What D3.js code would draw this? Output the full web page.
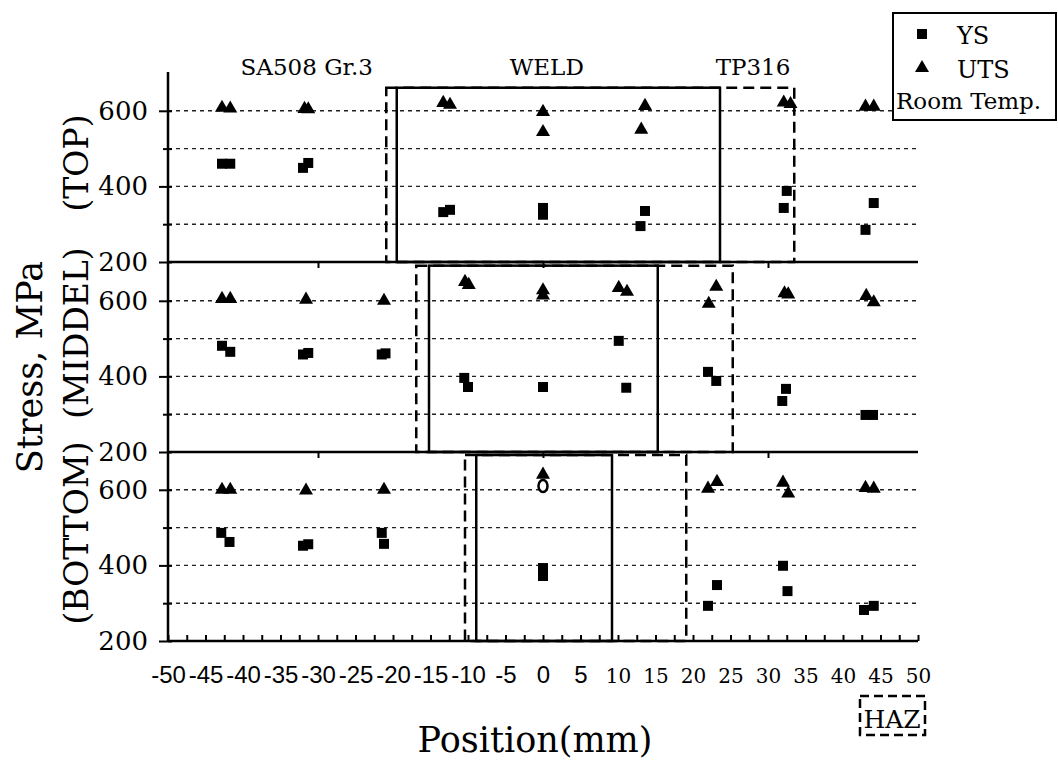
<!DOCTYPE html>
<html>
<head>
<meta charset="utf-8">
<script src="https://cdn.jsdelivr.net/npm/d3@7/dist/d3.min.js"></script>
<style>
  body { margin: 0; background: #fff; }
  svg { display: block; }
</style>
</head>
<body>
<div id="chart"></div>
<script>
// ---- data (position in mm, stress in MPa) ----
var panelNames = ["(TOP)", "(MIDDEL)", "(BOTTOM)"];
var xTicks = d3.range(-50, 51, 5);
var yTicks = [200, 300, 400, 500, 600];
var gridValues = [300, 400, 500, 600];
var regionLabels = ["SA508 Gr.3", "WELD", "TP316"];
var regionPos = [-31.5, 0.5, 28];

var topYS  = [[-42.8,460],[-41.7,460],[-32,449],[-31.3,462],[-13.3,332],[-12.4,338],[0,343],[0,325],
              [13.6,335],[13,295],[32.5,388],[32.1,343],[44.1,356],[43,285]];
var topUTS = [[-42.8,608],[-41.7,606],[-31.8,605],[-31.3,604],[-13.3,621],[-12.4,616],[0,597],[0,544],
              [13.6,613],[13.1,550],[32.1,622],[33,618],[43,611],[44.1,611]];
var midYS  = [[-42.8,481],[-41.7,465],[-32,458],[-31.3,462],[-21.5,458],[-21,461],[-10.5,396],[-10,372],
              [0,372],[10.1,494],[11.1,370],[22,412],[23.1,388],[32.4,367],[31.9,335],[43,298],[44,298]];
var midUTS = [[-42.8,605],[-41.7,605],[-31.6,603],[-21.2,600],[-10.4,650],[-9.9,642],[0,628],[0,614],
              [10.1,634],[11.2,624],[23.1,637],[22.1,592],[32.2,620],[32.7,617],[43.1,613],[44.1,596]];
var botYS  = [[-42.9,486],[-41.8,462],[-32,452],[-31.3,456],[-21.5,486],[-21.2,457],[0,393],[0,372],
              [23.2,348],[22,293],[32,399],[32.6,332],[42.8,282],[44.1,293]];
var botUTS = [[-42.8,600],[-41.7,600],[-31.6,598],[-21.2,600],[0,640],[23.2,621],[22,603],
              [32,619],[32.7,590],[43,605],[44.1,603]];
var botOpen = [[0,610]];

// weld (solid) and HAZ (dashed) boxes: [left mm, right mm, top MPa]
var weldBoxes = [[-19.5, 23.6, 661], [-15.2, 15.3, 693], [-8.9, 9.2, 692]];
var hazBoxes  = [[-20.9, 33.5, 661], [-16.9, 25.3, 693], [-10.4, 19.1, 692]];

var panels = [
  {name: panelNames[0], ys: topYS, uts: topUTS, open: [], weld: weldBoxes[0], haz: hazBoxes[0]},
  {name: panelNames[1], ys: midYS, uts: midUTS, open: [], weld: weldBoxes[1], haz: hazBoxes[1]},
  {name: panelNames[2], ys: botYS, uts: botUTS, open: botOpen, weld: weldBoxes[2], haz: hazBoxes[2]}
];

// ---- layout ----
var W = 1058, H = 764;
var left = 168, right = 918;
var panelBottoms = [262, 452, 641], panelH = 189;
var serif = "'DejaVu Serif', serif", sans = "'Liberation Sans', Arial, sans-serif";

var svg = d3.select("#chart").append("svg")
  .attr("width", W).attr("height", H)
  .style("background", "#fff");

var x = d3.scaleLinear().domain([-50, 50]).range([left, right]);

var squareSym = d3.symbol().type(d3.symbolSquare).size(100);
var triSym = d3.symbol().type(d3.symbolTriangle).size(85);

panels.forEach(function(p, i) {
  var b = panelBottoms[i];
  var y = d3.scaleLinear().domain([200, 700]).range([b, b - panelH]);
  var g = svg.append("g").attr("class", "panel");

  // dotted grid
  g.selectAll(".grid").data(gridValues).enter().append("line")
    .attr("x1", left).attr("x2", right)
    .attr("y1", function(d) { return y(d); }).attr("y2", function(d) { return y(d); })
    .attr("stroke", "#222").attr("stroke-width", 1.4).attr("stroke-dasharray", "4,4");

  // HAZ dashed box, then weld solid box
  g.append("rect")
    .attr("x", x(p.haz[0])).attr("y", y(p.haz[2]))
    .attr("width", x(p.haz[1]) - x(p.haz[0])).attr("height", b - y(p.haz[2]))
    .attr("fill", "none").attr("stroke", "#000").attr("stroke-width", 2.5)
    .attr("stroke-dasharray", "11,6");
  g.append("rect")
    .attr("x", x(p.weld[0])).attr("y", y(p.weld[2]))
    .attr("width", x(p.weld[1]) - x(p.weld[0])).attr("height", b - y(p.weld[2]))
    .attr("fill", "none").attr("stroke", "#000").attr("stroke-width", 2.5);

  // y axis
  var yAxis = d3.axisLeft(y).tickValues(yTicks).tickSize(8)
    .tickFormat(function(d) { return d % 200 === 0 ? d : ""; });
  var ya = g.append("g").attr("transform", "translate(" + left + ",0)").call(yAxis);
  ya.select(".domain").remove();
  ya.selectAll(".tick line").attr("stroke", "#000").attr("stroke-width", 2)
    .attr("x2", function(d) { return d % 200 === 0 ? -9 : -5; }).attr("x1", 4);
  ya.selectAll(".tick text").attr("x", -20).attr("dy", "0.33em")
    .style("font-family", serif).style("font-size", "26px").attr("fill", "#000");

  // panel separator / bottom line
  g.append("line").attr("x1", left).attr("x2", right).attr("y1", b).attr("y2", b)
    .attr("stroke", "#000").attr("stroke-width", 2.5);
  if (i < 2) {
    var sepAxis = d3.axisBottom(x).tickValues([-30, 0, 30]).tickSize(6).tickFormat("");
    var sa = g.append("g").attr("transform", "translate(0," + b + ")").call(sepAxis);
    sa.select(".domain").remove();
    sa.selectAll(".tick line").attr("stroke-width", 2);
  }

  // markers
  g.selectAll(".ys").data(p.ys).enter().append("path")
    .attr("d", squareSym)
    .attr("transform", function(d) { return "translate(" + x(d[0]) + "," + y(d[1]) + ")"; })
    .attr("fill", "#000");
  g.selectAll(".uts").data(p.uts).enter().append("path")
    .attr("d", triSym)
    .attr("transform", function(d) { return "translate(" + x(d[0]) + "," + y(d[1]) + ")"; })
    .attr("fill", "#000");
  g.selectAll(".open").data(p.open).enter().append("ellipse")
    .attr("cx", function(d) { return x(d[0]); }).attr("cy", function(d) { return y(d[1]); })
    .attr("rx", 4.5).attr("ry", 6)
    .attr("fill", "#fff").attr("stroke", "#000").attr("stroke-width", 2.5);
});

// full left axis line
svg.append("line").attr("x1", left).attr("x2", left).attr("y1", 72).attr("y2", panelBottoms[2])
  .attr("stroke", "#000").attr("stroke-width", 2.5);

// bottom x axis with inward ticks
var xb = panelBottoms[2];
var minorAxis = d3.axisBottom(x).tickValues(d3.range(-50, 50.1, 2.5)).tickSize(-6).tickFormat("");
var ma = svg.append("g").attr("transform", "translate(0," + xb + ")").call(minorAxis);
ma.select(".domain").remove();
ma.selectAll(".tick line").attr("stroke-width", 2);

var xAxis = d3.axisBottom(x).tickValues(xTicks).tickSize(0)
  .tickFormat(function(d) { return String(d); });
var xa = svg.append("g").attr("transform", "translate(0," + xb + ")").call(xAxis);
xa.select(".domain").remove();
xa.selectAll(".tick text")
  .attr("y", 0).attr("dy", 0)
  .attr("transform", "translate(0,42)")
  .attr("fill", "#000")
  .style("font-family", function(d) { return d <= 5 ? sans : serif; })
  .style("font-size", function(d) { return d <= 5 ? "24px" : "20px"; });

// region labels
svg.selectAll(".region").data(regionLabels).enter().append("text")
  .attr("x", function(d, i) { return x(regionPos[i]); }).attr("y", 75)
  .attr("text-anchor", "middle")
  .style("font-family", serif).style("font-size", "23px")
  .text(function(d) { return d; });

// y axis titles
svg.append("text")
  .attr("transform", "translate(42,367) rotate(-90)")
  .attr("text-anchor", "middle")
  .style("font-family", serif).style("font-size", "35px")
  .text("Stress, MPa");
var panelLabelY = [163, 333, 533];
svg.selectAll(".plabel").data(panelNames).enter().append("text")
  .attr("transform", function(d, i) { return "translate(88," + panelLabelY[i] + ") rotate(-90)"; })
  .attr("text-anchor", "middle")
  .style("font-family", serif).style("font-size", "33px")
  .text(function(d) { return d; });

// x title
svg.append("text")
  .attr("x", 535).attr("y", 752).attr("text-anchor", "middle")
  .style("font-family", serif).style("font-size", "35px")
  .text("Position(mm)");

// HAZ key
svg.append("rect").attr("x", 860).attr("y", 696).attr("width", 65).attr("height", 39)
  .attr("fill", "none").attr("stroke", "#000").attr("stroke-width", 2.5)
  .attr("stroke-dasharray", "9,5");
svg.append("text").attr("x", 892).attr("y", 728).attr("text-anchor", "middle")
  .style("font-family", serif).style("font-size", "25px").text("HAZ");

// legend
var lg = svg.append("g");
lg.append("rect").attr("x", 893).attr("y", 13).attr("width", 163).attr("height", 107)
  .attr("fill", "#fff").attr("stroke", "#000").attr("stroke-width", 2);
lg.append("path").attr("d", squareSym).attr("transform", "translate(922,34)");
lg.append("path").attr("d", triSym).attr("transform", "translate(922,68)");
lg.append("text").attr("x", 957).attr("y", 44)
  .style("font-family", serif).style("font-size", "24px").text("YS");
lg.append("text").attr("x", 957).attr("y", 78)
  .style("font-family", serif).style("font-size", "24px").text("UTS");
lg.append("text").attr("x", 896).attr("y", 109)
  .style("font-family", serif).style("font-size", "23px").text("Room Temp.");
</script>
</body>
</html>
